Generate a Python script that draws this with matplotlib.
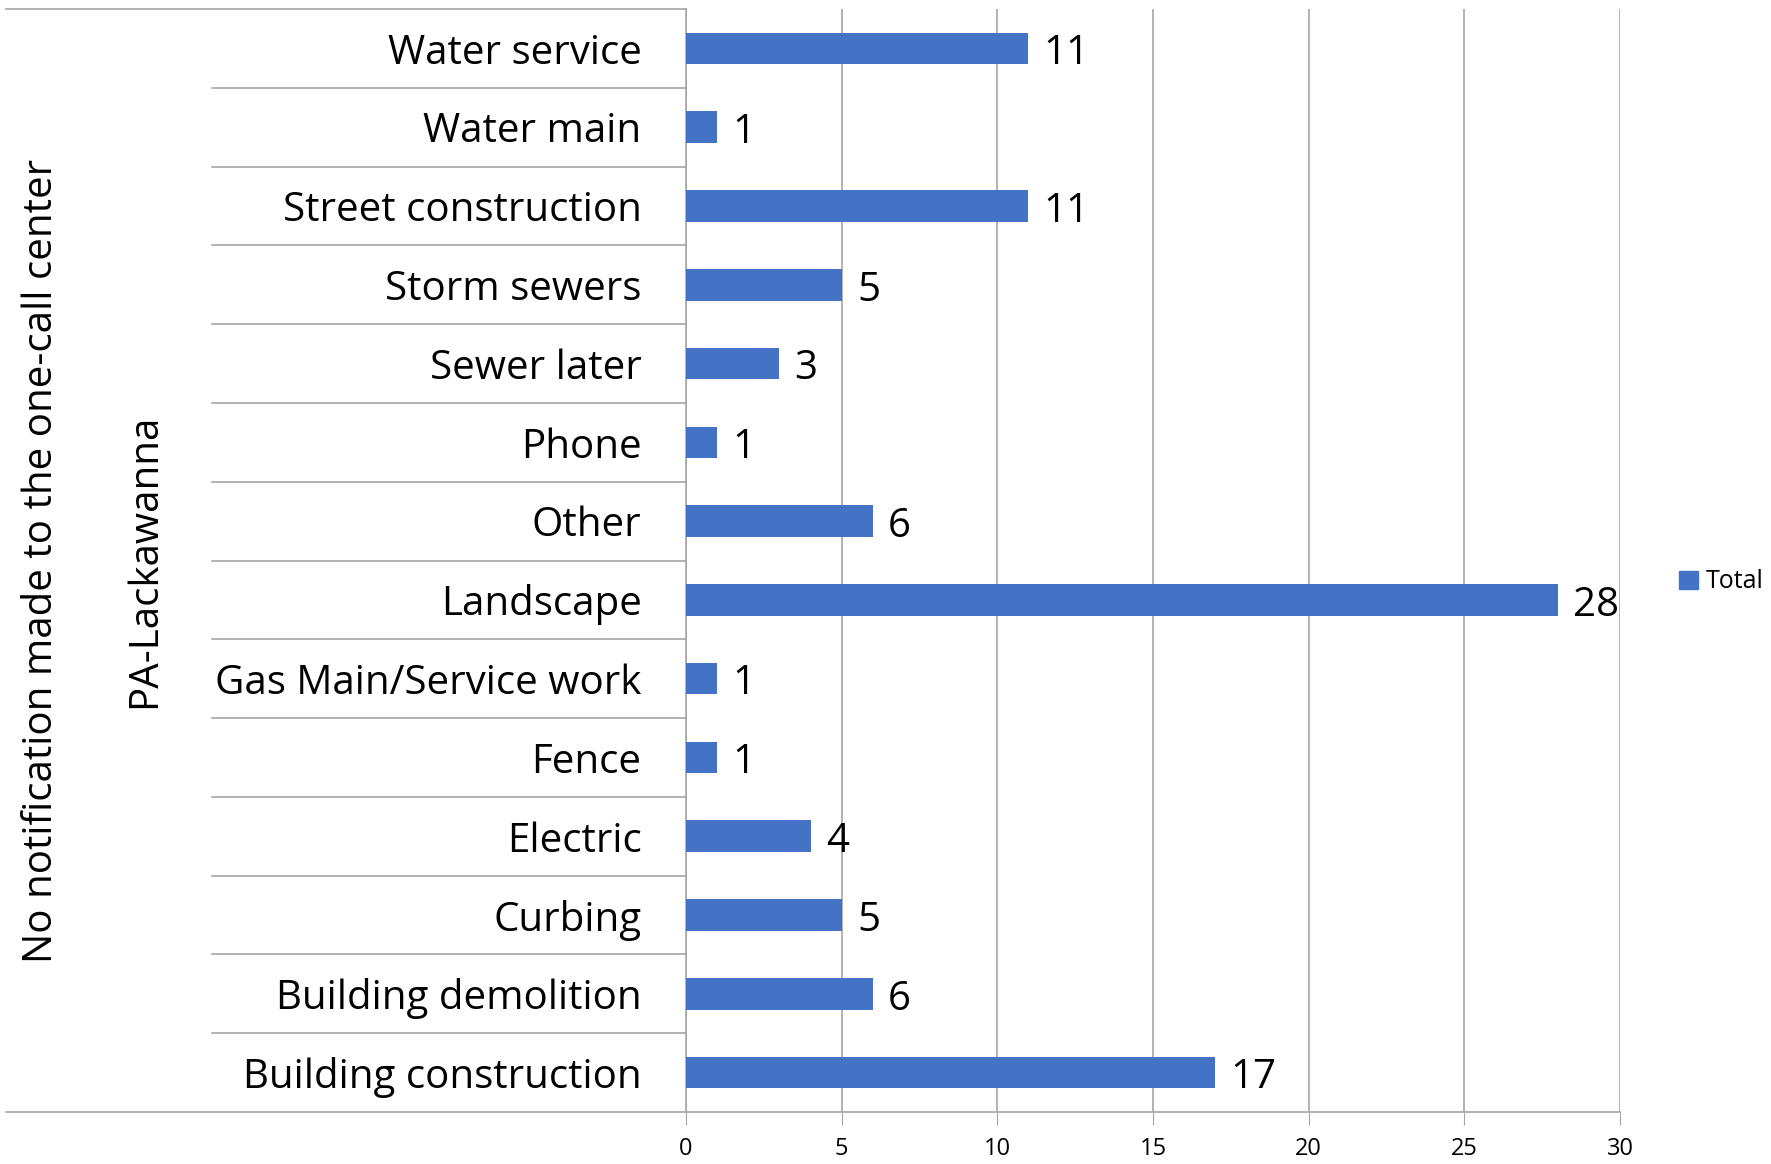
import matplotlib
matplotlib.use("Agg")
import matplotlib.pyplot as plt
from matplotlib.transforms import blended_transform_factory
from matplotlib.patches import Patch

plt.rcParams['font.family'] = ['Open Sans', 'DejaVu Sans']

# categories bottom -> top
cats = ["Building construction", "Building demolition", "Curbing", "Electric",
        "Fence", "Gas Main/Service work", "Landscape", "Other", "Phone",
        "Sewer later", "Storm sewers", "Street construction", "Water main",
        "Water service"]
vals = [17, 6, 5, 4, 1, 1, 28, 6, 1, 3, 5, 11, 1, 11]
xticks = [0, 5, 10, 15, 20, 25, 30]
group = "PA-Lackawanna"
outer = "No notification made to the one-call center"

W, H = 1771, 1164
fig = plt.figure(figsize=(W/100, H/100), dpi=100)
x0, x1, y0, y1 = 686, 1620, 9, 1112
ax = fig.add_axes([x0/W, 1-y1/H, (x1-x0)/W, (y1-y0)/H])

blue = '#4472C4'
grey = '#a6a6a6'
bars = ax.barh(range(len(cats)), vals, height=0.4, color=blue, zorder=3, label='Total')
txts = ax.bar_label(bars, labels=[str(v) for v in vals], padding=11, fontsize=29)
for t in txts:
    t.xyann = (t.xyann[0], -4)

ax.set_xlim(0, 30)
ax.set_ylim(-0.5, len(cats)-0.5)
ax.set_xticks(xticks)
ax.set_xticklabels([str(t) for t in xticks], fontsize=17)
ax.tick_params(axis='x', length=9, color=grey, pad=9)
ax.set_yticks(range(len(cats)))
ax.set_yticklabels(cats, fontsize=29)
ax.tick_params(axis='y', length=0, pad=32)
ax.grid(axis='x', color=grey, lw=1.2, zorder=0)
for s in ['top', 'right']:
    ax.spines[s].set_visible(False)
for s in ['left', 'bottom']:
    ax.spines[s].set_color(grey)
    ax.spines[s].set_linewidth(1.2)

tr = blended_transform_factory(ax.transAxes, ax.transData)
for k in range(len(cats)-1):
    ax.plot([(212-x0)/(x1-x0), 0], [k+0.5, k+0.5], color=grey, lw=1.2,
            transform=tr, clip_on=False)
for yy in [-0.5, len(cats)-0.5]:
    ax.plot([(6-x0)/(x1-x0), 0], [yy, yy], color=grey, lw=1.2,
            transform=tr, clip_on=False)

fig.text(145/W, 1-561/H, group, rotation=90, ha='center', va='center', fontsize=29)
fig.text(42/W, 1-561/H, outer, rotation=90, ha='center', va='center', fontsize=29)

fig.legend(handles=[Patch(color=blue, label='Total')], loc='center left',
           bbox_to_anchor=(1679/W, 1-582/H), frameon=False, fontsize=18,
           handlelength=0.75, handleheight=0.75, handletextpad=0.3,
           borderaxespad=0, borderpad=0)

fig.savefig('out.png', dpi=100, facecolor='white')
